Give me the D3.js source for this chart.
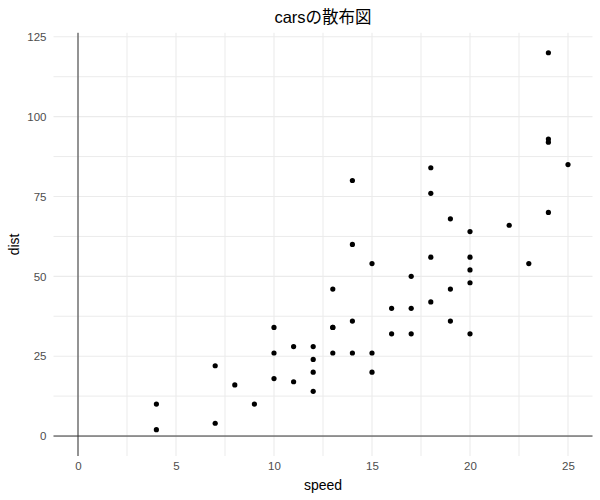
<!DOCTYPE html>
<html><head><meta charset="utf-8">
<script src="https://cdn.jsdelivr.net/npm/d3@7"></script>
<style>body{margin:0;background:#fff;}text{font-family:"Liberation Sans","DejaVu Sans",sans-serif;}</style>
</head><body><svg id="c" width="600" height="500"></svg>
<script>
const speed = [4,4,7,7,8,9,10,10,10,11,11,12,12,12,12,13,13,13,13,14,14,14,14,15,15,15,16,16,17,17,17,18,18,18,18,19,19,19,20,20,20,20,20,22,23,24,24,24,24,25];
const dist = [2,10,4,22,16,10,18,26,34,17,28,14,20,24,28,26,34,34,46,26,36,60,80,20,26,54,32,40,32,40,50,42,56,76,84,36,46,68,32,48,52,56,64,66,54,70,92,93,120,85];
const xTicks = [0,5,10,15,20,25];
const yTicks = [0,25,50,75,100,125];
const xMinor = [2.5,7.5,12.5,17.5,22.5];
const yMinor = [12.5,37.5,62.5,87.5,112.5];

(function(){
const svg = d3.select("#c");
const pL = 53.5, pR = 592.5, pT = 32.8, pB = 456;
const x = d3.scaleLinear().domain([-1.25, 26.25]).range([pL, pR]);
const y = d3.scaleLinear().domain([-6.25, 126.25]).range([pB, pT]);

const g = svg.append("g");
g.selectAll(".vmin").data(xMinor).enter().append("line")
  .attr("x1", d=>x(d)).attr("x2", d=>x(d)).attr("y1", pT).attr("y2", pB)
  .attr("stroke", "#ebebeb").attr("stroke-width", 1);
g.selectAll(".hmin").data(yMinor).enter().append("line")
  .attr("y1", d=>y(d)).attr("y2", d=>y(d)).attr("x1", pL).attr("x2", pR)
  .attr("stroke", "#ebebeb").attr("stroke-width", 1);
g.selectAll(".vmaj").data(xTicks).enter().append("line")
  .attr("x1", d=>x(d)).attr("x2", d=>x(d)).attr("y1", pT).attr("y2", pB)
  .attr("stroke", "#ebebeb").attr("stroke-width", 1.1);
g.selectAll(".hmaj").data(yTicks).enter().append("line")
  .attr("y1", d=>y(d)).attr("y2", d=>y(d)).attr("x1", pL).attr("x2", pR)
  .attr("stroke", "#ebebeb").attr("stroke-width", 1.1);

g.append("line").attr("x1", x(0)).attr("x2", x(0)).attr("y1", pT).attr("y2", pB)
  .attr("stroke", "#333").attr("stroke-width", 1);
g.append("line").attr("y1", y(0)).attr("y2", y(0)).attr("x1", pL).attr("x2", pR)
  .attr("stroke", "#333").attr("stroke-width", 1);

const xAxis = d3.axisBottom(x).tickValues(xTicks).tickSize(0).tickPadding(0);
const xa = svg.append("g").attr("transform", `translate(0,${pB})`).call(xAxis);
xa.select(".domain").remove();
xa.selectAll("text").attr("fill", "#4d4d4d").attr("font-size", 11.5).attr("dy", "1.2em")
  .style("font-family", "'Liberation Sans', sans-serif");
const yAxis = d3.axisLeft(y).tickValues(yTicks).tickSize(0).tickPadding(7);
const ya = svg.append("g").attr("transform", `translate(${pL},0)`).call(yAxis);
ya.select(".domain").remove();
ya.selectAll("text").attr("fill", "#4d4d4d").attr("font-size", 11.5)
  .style("font-family", "'Liberation Sans', sans-serif");

svg.append("g").selectAll("circle").data(speed.map((s,i)=>[s,dist[i]])).enter().append("circle")
  .attr("cx", d=>x(d[0])).attr("cy", d=>y(d[1])).attr("r", 2.6).attr("fill", "#000");

svg.append("text").attr("x", (pL+pR)/2).attr("y", 490).attr("text-anchor", "middle")
  .attr("font-size", 14).attr("fill", "#000").text("speed");
svg.append("text").attr("transform", `translate(19,${(pT+pB)/2}) rotate(-90)`).attr("text-anchor", "middle")
  .attr("font-size", 14).attr("fill", "#000").text("dist");
svg.append("text").attr("x", (pL+pR)/2).attr("y", 23).attr("text-anchor", "middle")
  .attr("font-size", 16.5).attr("fill", "#000")
  .style("font-family", "'Liberation Sans','Noto Sans CJK JP',sans-serif").text("carsの散布図");
})();
</script></body></html>
